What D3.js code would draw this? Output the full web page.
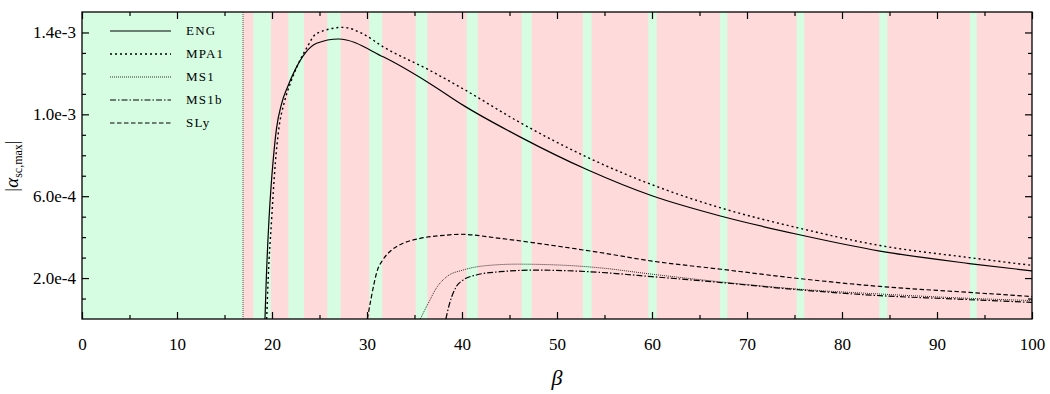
<!DOCTYPE html>
<html>
<head>
<meta charset="utf-8">
<script src="https://cdn.jsdelivr.net/npm/d3@7"></script>
<style>
  body { margin: 0; background: #fff; }
  text { font-family: "Liberation Serif", "DejaVu Serif", serif; }
</style>
</head>
<body>
<div class="container"></div>
<script>
const margin = { top: 12, right: 18, bottom: 75, left: 82 },
  width = 1050 - margin.left - margin.right,
  height = 394 - margin.top - margin.bottom;

// stable (green) windows in beta, everything after betaCrit is pink otherwise
const betaCrit = 16.95;
const greenStart = [0, 18.03, 21.72, 25.82, 30.24, 35.13, 40.49, 46.28, 52.71, 59.61, 67.16, 75.23, 83.93, 93.47];
const greenEnd = [16.95, 19.89, 23.37, 27.23, 31.61, 36.35, 41.65, 47.34, 53.65, 60.49, 67.93, 76.03, 84.77, 94.18];

// curves, beta vs |alpha| in units of 1e-3
const engBeta = [19.26, 19.37, 19.68, 19.9, 20.1, 20.45, 21.02, 21.65, 22.42, 23.47, 24.7, 27.0, 31.7, 36.6, 40.1, 46.1, 53.2, 60, 67.3, 75.4, 84, 93.4, 100];
const engVal = [0, 0.158, 0.484, 0.646, 0.762, 0.923, 1.054, 1.135, 1.216, 1.298, 1.347, 1.368, 1.281, 1.151, 1.045, 0.89, 0.729, 0.602, 0.502, 0.413, 0.332, 0.271, 0.235];

const mpaBeta = [19.44, 19.6, 19.95, 20.35, 20.7, 21.3, 22.0, 22.8, 23.6, 24.7, 27.5, 29.5, 31.7, 36.6, 40.1, 46.1, 53.2, 60, 67.3, 75.4, 84, 93.4, 100];
const mpaVal = [0, 0.2, 0.48, 0.762, 0.923, 1.06, 1.16, 1.25, 1.32, 1.395, 1.425, 1.395, 1.33, 1.215, 1.125, 0.96, 0.79, 0.656, 0.542, 0.445, 0.359, 0.3, 0.262];

const ms1Beta = [35.6, 36.45, 37.4, 38.4, 40.1, 42.2, 45.8, 51, 54.5, 60, 67.3, 75.4, 84, 93.4, 100];
const ms1Val = [0, 0.077, 0.158, 0.207, 0.239, 0.259, 0.268, 0.262, 0.25, 0.219, 0.181, 0.146, 0.122, 0.101, 0.09];

const ms1bBeta = [38.3, 38.7, 39.4, 40.1, 41.5, 44, 47.9, 51, 54.5, 60, 67.3, 75.4, 84, 93.4, 100];
const ms1bVal = [0, 0.077, 0.158, 0.19, 0.215, 0.231, 0.239, 0.236, 0.228, 0.207, 0.178, 0.143, 0.114, 0.095, 0.081];

const slyBeta = [30.04, 30.4, 31.1, 31.65, 32.6, 33.8, 35.6, 38.4, 39.8, 44, 49.3, 54.5, 60, 67.3, 75.4, 84, 93.4, 100];
const slyVal = [0, 0.093, 0.239, 0.288, 0.337, 0.37, 0.394, 0.41, 0.414, 0.394, 0.361, 0.325, 0.283, 0.243, 0.198, 0.159, 0.13, 0.11];

const seriesNames = ["ENG", "MPA1", "MS1", "MS1b", "SLy"];
const yTicks = [0.2e-3, 0.6e-3, 1.0e-3, 1.4e-3];
const yTickLabels = ["2.0e-4", "6.0e-4", "1.0e-3", "1.4e-3"];

const svg = d3
  .select(".container")
  .append("svg")
  .attr("width", width + margin.left + margin.right)
  .attr("height", height + margin.top + margin.bottom)
  .append("g")
  .attr("transform", `translate(${margin.left}, ${margin.top})`);

const xScale = d3.scaleLinear().domain([0, 100]).range([0, width]);
const yScale = d3.scaleLinear().domain([0, 1.5e-3]).range([height, 0]);

// background bands
svg.append("rect")
  .attr("x", xScale(betaCrit))
  .attr("y", 0)
  .attr("width", xScale(100) - xScale(betaCrit))
  .attr("height", height)
  .attr("fill", "#ffdada");

svg.selectAll(".band")
  .data(greenStart)
  .join("rect")
  .attr("class", "band")
  .attr("x", (d) => xScale(d))
  .attr("y", 0)
  .attr("width", (d, i) => xScale(greenEnd[i]) - xScale(d))
  .attr("height", height)
  .attr("fill", "#d6fce2");

// critical beta marker
svg.append("line")
  .attr("x1", xScale(betaCrit))
  .attr("x2", xScale(betaCrit))
  .attr("y1", 0)
  .attr("y2", height)
  .attr("stroke", "#555")
  .attr("stroke-width", 1)
  .attr("stroke-dasharray", "1,1");

// curves
const styles = [
  { dash: null, w: 1.2 },
  { dash: "2,3", w: 1.4 },
  { dash: "1,1", w: 0.8 },
  { dash: "6,2,1.5,2", w: 1.2 },
  { dash: "4.5,2.5", w: 1.2 },
];
const curves = [
  [engBeta, engVal],
  [mpaBeta, mpaVal],
  [ms1Beta, ms1Val],
  [ms1bBeta, ms1bVal],
  [slyBeta, slyVal],
];

const line = d3.line()
  .x((d) => xScale(d[0]))
  .y((d) => yScale(d[1] * 1e-3))
  .curve(d3.curveMonotoneX);

curves.forEach((c, i) => {
  const pts = c[0].map((b, j) => [b, c[1][j]]);
  svg.append("path")
    .datum(pts)
    .attr("fill", "none")
    .attr("stroke", "#000")
    .attr("stroke-width", styles[i].w)
    .attr("stroke-dasharray", styles[i].dash)
    .attr("d", line);
});

// axes: inward ticks on all four sides
const major = d3.range(0, 101, 10);
const minor = d3.range(5, 100, 10);
const yMinor = d3.range(1, 15).map((d) => d * 1e-4).filter((d) => !yTicks.some((t) => Math.abs(t - d) < 1e-9));

function styleAxis(g) {
  g.select(".domain").remove();
  g.selectAll(".tick line").attr("stroke", "#000").attr("stroke-width", 1.2);
  g.selectAll(".tick text")
    .attr("fill", "#000")
    .style("font-size", "17px")
    .style("font-family", "'Liberation Serif', serif");
}

svg.append("g")
  .attr("transform", `translate(0, ${height})`)
  .call(d3.axisBottom(xScale).tickValues(major).tickSizeInner(-7).tickPadding(19))
  .call(styleAxis);
svg.append("g")
  .attr("transform", `translate(0, ${height})`)
  .call(d3.axisBottom(xScale).tickValues(minor).tickSizeInner(-4).tickFormat(""))
  .call(styleAxis);
svg.append("g")
  .call(d3.axisTop(xScale).tickValues(major).tickSizeInner(-7).tickFormat(""))
  .call(styleAxis);
svg.append("g")
  .call(d3.axisTop(xScale).tickValues(minor).tickSizeInner(-4).tickFormat(""))
  .call(styleAxis);

svg.append("g")
  .call(d3.axisLeft(yScale).tickValues(yTicks).tickSizeInner(-7).tickPadding(6)
    .tickFormat((d, i) => yTickLabels[i]))
  .call(styleAxis);
svg.append("g")
  .call(d3.axisLeft(yScale).tickValues(yMinor).tickSizeInner(-4).tickFormat(""))
  .call(styleAxis);
svg.append("g")
  .attr("transform", `translate(${width}, 0)`)
  .call(d3.axisRight(yScale).tickValues(yTicks).tickSizeInner(-7).tickFormat(""))
  .call(styleAxis);
svg.append("g")
  .attr("transform", `translate(${width}, 0)`)
  .call(d3.axisRight(yScale).tickValues(yMinor).tickSizeInner(-4).tickFormat(""))
  .call(styleAxis);

// frame
svg.append("rect")
  .attr("width", width)
  .attr("height", height)
  .attr("fill", "none")
  .attr("stroke", "#000")
  .attr("stroke-width", 1.3);

// legend
const legend = svg.append("g").attr("transform", "translate(28, 19)");
seriesNames.forEach((name, i) => {
  const y = i * 23;
  legend.append("line")
    .attr("x1", 0).attr("x2", 61)
    .attr("y1", y).attr("y2", y)
    .attr("stroke", "#000")
    .attr("stroke-width", styles[i].w)
    .attr("stroke-dasharray", styles[i].dash);
  legend.append("text")
    .attr("x", 76)
    .attr("y", y + 4)
    .style("font-size", "13px")
    .style("letter-spacing", "1.2px")
    .text(name);
});

// axis labels
svg.append("text")
  .attr("x", xScale(50))
  .attr("y", height + 66)
  .style("text-anchor", "middle")
  .style("font-size", "22px")
  .style("font-style", "italic")
  .text("β");

const yl = svg.append("text")
  .attr("transform", "rotate(-90)")
  .attr("x", -154)
  .attr("y", -64)
  .style("text-anchor", "middle")
  .style("font-size", "19px");
yl.append("tspan").text("|");
yl.append("tspan").style("font-style", "italic").text("α");
yl.append("tspan").attr("dy", 4).style("font-size", "12px").text("sc,max");
yl.append("tspan").attr("dy", -4).text("|");
</script>
</body>
</html>
